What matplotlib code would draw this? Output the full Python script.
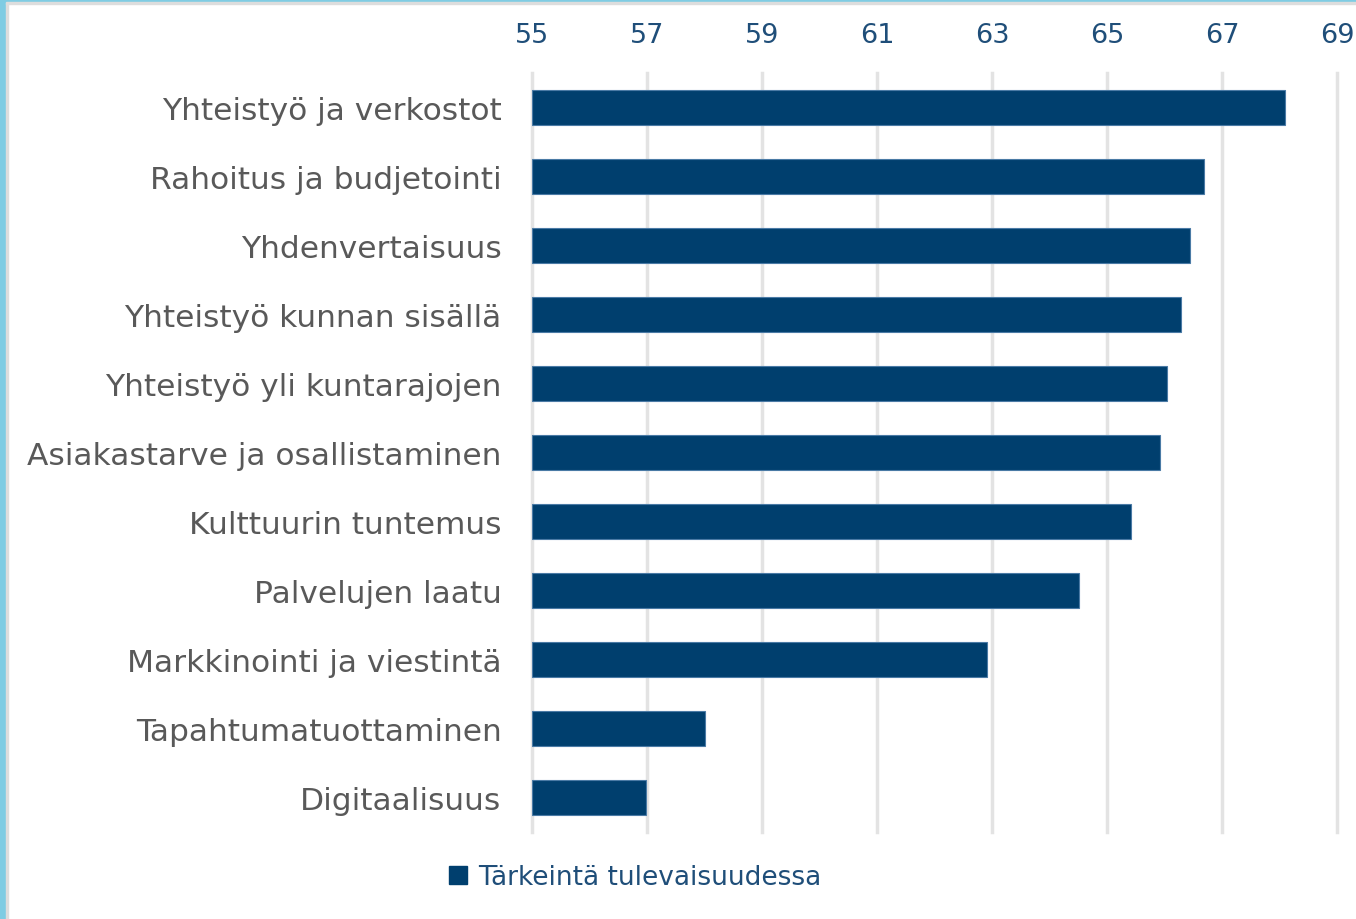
import matplotlib
matplotlib.use('Agg')
import matplotlib.pyplot as plt
from matplotlib.patches import Rectangle, Patch

categories = ['Yhteistyö ja verkostot', 'Rahoitus ja budjetointi', 'Yhdenvertaisuus',
              'Yhteistyö kunnan sisällä', 'Yhteistyö yli kuntarajojen',
              'Asiakastarve ja osallistaminen', 'Kulttuurin tuntemus', 'Palvelujen laatu',
              'Markkinointi ja viestintä', 'Tapahtumatuottaminen', 'Digitaalisuus']
values = [68.09, 66.68, 66.44, 66.28, 66.04, 65.93, 65.41, 64.51, 62.91, 58.0, 56.98]
ticks = [55, 57, 59, 61, 63, 65, 67, 69]
series_name = 'Tärkeintä tulevaisuudessa'

bar_color = '#003F6E'
tick_color = '#1F4E79'
label_color = '#595959'

plt.rcParams['font.family'] = ['DejaVu Sans']

fig = plt.figure(figsize=(13.56, 9.2), dpi=100)
ax = fig.add_axes([532 / 1356, 1 - 833 / 920, 805 / 1356, 759 / 920])

y = range(len(categories))
ax.barh(y, [v - 55 for v in values], left=55, height=0.51, color=bar_color,
        edgecolor='#4A7AA5', linewidth=0.8, zorder=3)

ax.set_xlim(55, 69)
ax.set_ylim(len(categories) - 0.5, -0.5)
ax.set_xticks(ticks)
ax.set_xticklabels([str(t) for t in ticks])
ax.xaxis.tick_top()
ax.tick_params(axis='x', length=0, pad=18, labelsize=19.5, labelcolor=tick_color)
ax.set_yticks(list(y))
ax.set_yticklabels(categories)
ax.tick_params(axis='y', length=0, pad=22, labelsize=22.5, labelcolor=label_color)
ax.grid(axis='x', color='#E3E3E3', linewidth=2.5, zorder=0)
for gl in ax.get_xgridlines():
    gl.set_clip_on(False)
for s in ax.spines.values():
    s.set_visible(False)

fig.legend(handles=[Patch(color=bar_color, label=series_name)],
           loc='center', bbox_to_anchor=(635 / 1356, 1 - 878 / 920),
           frameon=False, fontsize=19, labelcolor=tick_color,
           handlelength=0.7, handleheight=0.7, handletextpad=0.4)

# frame edges of the slide
fig.patches.append(Rectangle((0, 0), 6 / 1356, 1, transform=fig.transFigure,
                             color='#7FCCE3', zorder=10))
fig.patches.append(Rectangle((6 / 1356, 0), 2 / 1356, 1, transform=fig.transFigure,
                             color='#DDDDDD', zorder=10))
fig.patches.append(Rectangle((0, 1 - 3 / 920), 1, 3 / 920, transform=fig.transFigure,
                             color='#7FCCE3', zorder=10))
fig.patches.append(Rectangle((6 / 1356, 1 - 5 / 920), 1, 2 / 920, transform=fig.transFigure,
                             color='#DDDDDD', zorder=10))

fig.savefig('out.png', dpi=100)
plt.close(fig)
